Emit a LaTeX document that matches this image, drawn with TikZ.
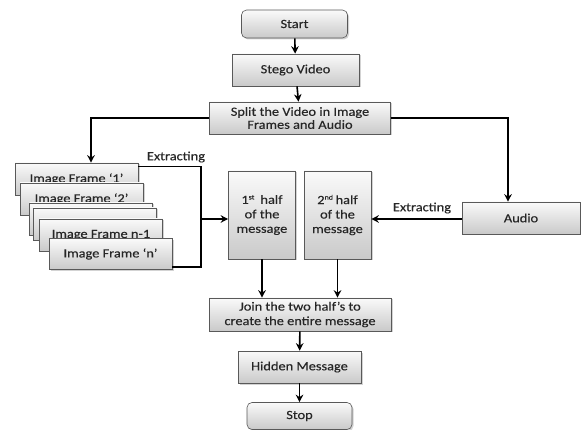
\documentclass[tikz,border=0pt]{standalone}
\usepackage{fontspec}
\setmainfont[FakeStretch=1.15,FakeBold=0.25]{Carlito}
\usetikzlibrary{arrows.meta,shadows,calc}
\begin{document}
\begin{tikzpicture}[x=1pt,y=-1pt,
  box/.style={draw=gray!70!black, line width=0.6pt, top color=gray!4, bottom color=gray!42,
    drop shadow={shadow xshift=1.5pt,shadow yshift=-1.5pt,opacity=0.35},
    inner sep=1pt, align=center, font=\fontsize{12.5}{14.5}\selectfont, text=black!85},
  rbox/.style={box, rounded corners=5pt},
  conn/.style={line width=1.6pt, -{Stealth[length=7.5pt,width=7.5pt]}},
  line/.style={line width=1.6pt},
  lbl/.style={font=\fontsize{12.5}{14.5}\selectfont, text=black!85, inner sep=0pt}]
\useasboundingbox (0,0) rectangle (581,430);
\node[rbox, minimum width=106pt, minimum height=28pt] (start) at (294.5,24) {Start};
\node[box, minimum width=127pt, minimum height=32pt] (stego) at (295.5,70) {Stego Video};
\node[box, minimum width=181pt, minimum height=32pt] (split) at (300,118) {Split the Video in Image\\[-1.5pt]Frames and Audio};
\node[box, minimum width=123pt, minimum height=32pt] (f1) at (76.5,179) {Image Frame ‘1’};
\node[box, minimum width=123pt, minimum height=32pt] (f2) at (81.5,199) {Image Frame ‘2’};
\node[box, minimum width=123pt, minimum height=32pt] (f3) at (91,219) {};
\node[box, minimum width=123pt, minimum height=32pt] (f4) at (95,224) {};
\node[box, minimum width=123pt, minimum height=32pt] (f5) at (101,235) {Image Frame n-1};
\node[box, minimum width=123pt, minimum height=31pt] (fn) at (110.5,254) {Image Frame ‘n’};
\node[box, minimum width=67pt, minimum height=88pt] (h1) at (262,215) {1\textsuperscript{\scriptsize st}\;\,half\\of the\\message};
\node[box, minimum width=67pt, minimum height=88pt] (h2) at (337.5,215) {2\textsuperscript{\scriptsize nd}\,half\\of the\\message};
\node[box, minimum width=118pt, minimum height=32pt] (audio) at (521,218) {Audio};
\node[box, minimum width=182pt, minimum height=33pt] (join) at (300,314.5) {Join the two half’s to\\create the entire message};
\node[box, minimum width=123pt, minimum height=32pt] (hidden) at (299.5,367) {Hidden Message};
\node[rbox, minimum width=105pt, minimum height=27pt] (stop) at (299.5,416) {Stop};
\coordinate (jx) at (201,219);
\node[lbl] (ex1) at (176,157) {Extracting};
\node[lbl] (ex2) at (422,208) {Extracting};
\draw[conn] (start) -- (stego);
\draw[conn] (stego) -- (split);
\draw[conn] (split.west) -| (91,0 |- f1.north);
\draw[conn] (split.east) -| (508,0 |- audio.north);
\draw[line] ($(f1.north east)+(0,4)$) -| (jx);
\draw[line] ($(fn.south east)+(0,-3)$) -| (jx);
\draw[conn] (jx) -- (jx -| h1.west);
\draw[conn] (audio.west |- 0,219) -- (h2.east |- 0,219);
\draw[conn] (h1.south) -- (h1.south |- join.north);
\draw[conn] (h2.south) -- (h2.south |- join.north);
\draw[conn] (join) -- (hidden);
\draw[conn] (hidden) -- (stop);
\end{tikzpicture}
\end{document}
